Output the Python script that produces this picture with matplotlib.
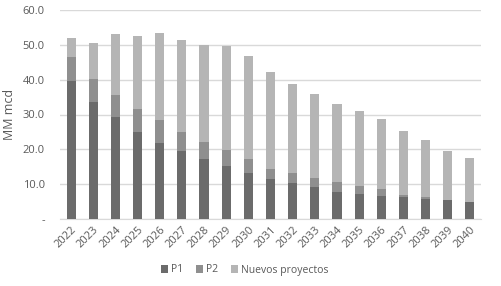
import numpy as np
from matplotlib import pyplot as plt, ticker

years = [str(y) for y in range(2022, 2041)]
# cumulative tops
p1 = [39.7, 33.7, 29.3, 24.9, 21.7, 19.5, 17.2, 15.2, 13.3, 11.5,
      10.3, 9.2, 7.8, 7.2, 6.6, 6.2, 5.6, 5.4, 4.8]
p1_p2_top = [46.4, 40.2, 35.6, 31.6, 28.3, 25.0, 22.2, 19.8, 17.2, 14.4,
             13.2, 11.8, 10.5, 9.6, 8.5, 6.9, 6.2, 5.5, 4.9]
total_top = [51.9, 50.5, 53.1, 52.4, 53.4, 51.3, 50.0, 49.7, 46.7, 42.3,
             38.7, 35.9, 33.1, 31.0, 28.7, 25.2, 22.8, 19.5, 17.4]

p1 = np.array(p1)
p2 = np.array(p1_p2_top) - p1
nuevos = np.array(total_top) - np.array(p1_p2_top)

plt.rcParams["font.family"] = ["Open Sans", "DejaVu Sans"]
txt_color = "#595959"

fig = plt.figure(figsize=(5.02, 2.86), dpi=100)
ax = fig.add_axes([60 / 502, 1 - 219 / 286, 421 / 502, 209 / 286])

x = np.arange(len(years))
w = 0.41
ax.bar(x, p1, w, color="#6b6b6b", label="P1", zorder=3)
ax.bar(x, p2, w, bottom=p1, color="#8f8f8f", label="P2", zorder=3)
ax.bar(x, nuevos, w, bottom=p1 + p2, color="#b5b5b5", label="Nuevos proyectos", zorder=3)

ax.set_xlim(-0.5, len(years) - 0.5)
ax.set_ylim(0, 60)
ax.yaxis.set_major_locator(ticker.MultipleLocator(10))
ax.yaxis.set_major_formatter(ticker.FuncFormatter(lambda v, p: "-" if v == 0 else f"{v:.1f}"))
ax.grid(axis="y", color="#d9d9d9", linewidth=1, zorder=0)
ax.set_axisbelow(True)

ax.set_xticks(x)
ax.set_xticklabels(years, rotation=45, ha="right", rotation_mode="anchor")
ax.tick_params(axis="both", length=0, labelsize=8, colors=txt_color)
ax.tick_params(axis="x", pad=4)
ax.tick_params(axis="y", pad=11)

for s in ["top", "right", "left"]:
    ax.spines[s].set_visible(False)
ax.spines["bottom"].set_color("#d9d9d9")

ax.set_ylabel("MM mcd", fontsize=9, color=txt_color, labelpad=5)

fig.legend(loc="center", bbox_to_anchor=(245 / 502, 1 - 270 / 286), ncol=3, frameon=False,
           fontsize=7.5, handlelength=0.7, handleheight=0.7, handletextpad=0.3,
           columnspacing=1.2, labelcolor=txt_color)

fig.savefig("out.png", dpi=100)
